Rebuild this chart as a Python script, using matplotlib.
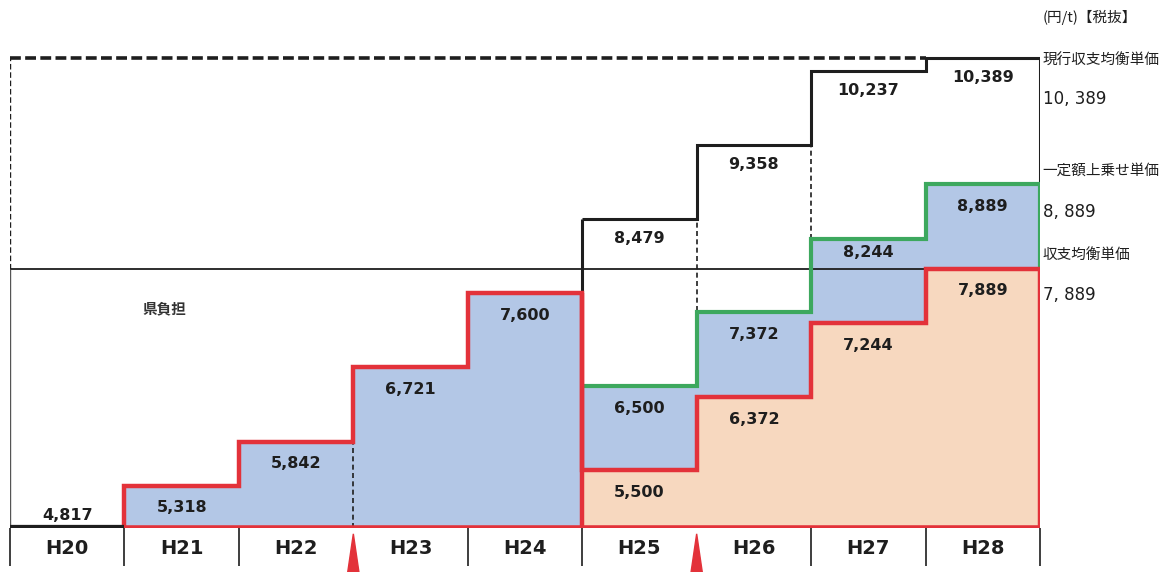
import numpy as np
import matplotlib.pyplot as plt
from matplotlib.patches import Polygon
from matplotlib.transforms import blended_transform_factory

plt.rcParams['font.family'] = ['Noto Sans CJK JP', 'DejaVu Sans']

# fiscal years and unit prices (yen/t, excl. tax)
years = ['H20', 'H21', 'H22', 'H23', 'H24', 'H25', 'H26', 'H27', 'H28']
price_early = [4817, 5318, 5842, 6721, 7600]          # H20-H24
price_balance = [5500, 6372, 7244, 7889]              # H25-H28, red
price_surcharge = [6500, 7372, 8244, 8889]            # H25-H28, green
price_current = [8479, 9358, 10237, 10389]            # H25-H28, black
era_marks = [2.5, 5.5]                                # red arrows under the axis

BLUE = '#b3c7e6'
PEACH = '#f7d8bf'
RED = '#e3323a'
GREEN = '#3da85e'
INK = '#1e1e1e'
NUM_FONT = ['Liberation Sans Narrow', 'DejaVu Sans']

n = len(years)
edges = np.arange(n + 1) - 0.5
base = price_early[0]
top = price_current[-1]

fig = plt.figure(figsize=(11.65, 5.72), dpi=100)
ax = fig.add_axes([10 / 1165, 44 / 572, 1030 / 1165, 488 / 572])
ax.set_xlim(edges[0], edges[-1])
ax.set_ylim(base, 10600)
for s in ax.spines.values():
    s.set_visible(False)
ax.set_yticks([])

late = edges[5:]
# fills
blue_top = price_early[1:] + price_surcharge
blue_bot = [base] * 4 + price_balance
ax.stairs(blue_top, edges[1:], baseline=blue_bot, fill=True, color=BLUE, lw=0, zorder=1)
ax.stairs(price_balance, late, baseline=base, fill=True, color=PEACH, lw=0, zorder=1)

# reference lines
ax.hlines(price_balance[-1], edges[0], edges[-1], color=INK, lw=1.3, zorder=2)
ax.hlines(top, edges[0], edges[-2], color=INK, lw=2.6, ls=(0, (3, 1.2)), zorder=2)
ax.vlines(edges[0], price_balance[-1], top, color=INK, lw=1.0, ls=(0, (4, 2)), zorder=2)
ax.vlines(edges[0], base, price_balance[-1], color='#555555', lw=1.0, zorder=2)
ax.vlines(edges[3], base, price_early[2], color=INK, lw=1.2, ls=(0, (3, 2)), zorder=2)
ax.vlines(edges[6], price_surcharge[0], price_current[0], color=INK, lw=1.2, ls=(0, (3, 2)), zorder=2)
ax.vlines(edges[7], price_surcharge[2], price_current[1], color=INK, lw=1.2, ls=(0, (3, 2)), zorder=2)

# black: current break-even price
ax.stairs(price_current, late, baseline=None, color=INK, lw=2.2, zorder=3)
ax.vlines(edges[5], price_early[-1], price_current[0], color=INK, lw=2.2, zorder=3)
ax.vlines(edges[-1], price_surcharge[-1], price_current[-1], color=INK, lw=2.2, zorder=3)

# green: surcharge price
ax.stairs(price_surcharge, late, baseline=None, color=GREEN, lw=3, zorder=4)
ax.vlines(edges[-1], price_balance[-1], price_surcharge[-1], color=GREEN, lw=3, zorder=4)

# red: prefecture share / break-even price
red_top = price_early[1:] + price_balance
ax.stairs(red_top, edges[1:], baseline=base, color=RED, lw=3.2, zorder=5)
ax.vlines(edges[5], base, price_early[-1], color=RED, lw=3.2, zorder=5)
ax.hlines(base, edges[1], edges[-1], color=RED, lw=4, zorder=5)
ax.hlines(base, edges[0], edges[1], color=INK, lw=4.5, zorder=5)

# value labels
def put(x, v, dy=-16):
    ax.annotate(f'{v:,}', (x, v), xytext=(0, dy), textcoords='offset points',
                ha='center', va='center', fontsize=11.5, fontweight='bold',
                family=NUM_FONT, color=INK, zorder=6)

put(0, price_early[0], dy=9)
for i, v in enumerate(price_early[1:], start=1):
    put(i, v)
for i in range(4):
    x = 5 + i
    put(x, price_balance[i])
    put(x, price_surcharge[i], dy=-10 if i == 2 else -16)
    put(x, price_current[i], dy=-14)

ax.text(0.85, 7424, '県負担', ha='center', va='center', fontsize=10.5,
        fontweight='bold', color='#333333')

# year row
ax.set_xticks(range(n))
ax.set_xticklabels(years, fontsize=14, fontweight='bold', family=NUM_FONT, color=INK)
ax.tick_params(axis='x', length=0, pad=8)
tr = blended_transform_factory(ax.transData, ax.transAxes)
for e in edges:
    if e in era_marks:
        continue
    ax.vlines(e, -0.078, 0, transform=tr, color=INK, lw=1.2, clip_on=False)
for e in era_marks:
    ax.add_patch(Polygon([[e - 0.055, -0.1], [e, -0.012], [e + 0.055, -0.1]],
                         closed=True, transform=tr, color=RED, clip_on=False))

# right-hand legend text
rt = blended_transform_factory(ax.transAxes, ax.transData)
side = [('現行収支均衡単価', price_current[-1], -2, -30),
        ('一定額上乗せ単価', price_surcharge[-1], 10, -20),
        ('収支均衡単価', price_balance[-1], 10, -19)]
for name, v, d1, d2 in side:
    ax.annotate(name, (1.0, v), xycoords=rt, xytext=(2, d1), textcoords='offset points',
                ha='left', va='center', fontsize=10.5, color=INK, annotation_clip=False)
    ax.annotate(f'{v:,}'.replace(',', ', '), (1.0, v), xycoords=rt, xytext=(2, d2),
                textcoords='offset points', ha='left', va='center', fontsize=12,
                family=NUM_FONT, color=INK, annotation_clip=False)
fig.text(1043 / 1165, 1 - 17 / 572, '(円/t)【税抜】', ha='left', va='center',
         fontsize=10.5, color=INK)

fig.savefig('out.png', dpi=100)
